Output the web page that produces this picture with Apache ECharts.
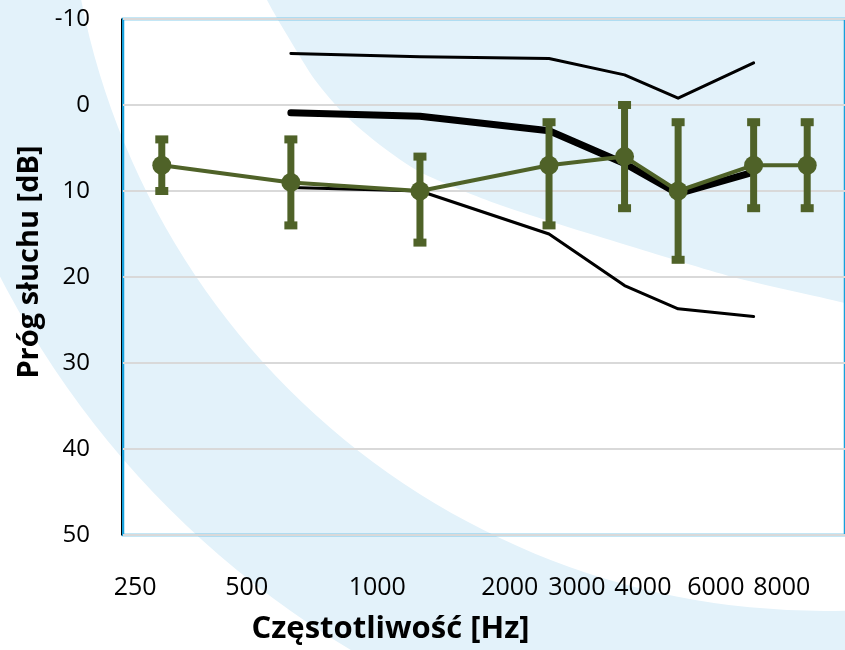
<!DOCTYPE html>
<html>
<head>
<meta charset="utf-8">
<script src="https://cdn.jsdelivr.net/npm/echarts@6/dist/echarts.min.js"></script>
<style>
  html, body { margin: 0; padding: 0; background: #ffffff; }
  #chart { width: 845px; height: 650px; }
</style>
</head>
<body>
<div id="chart"></div>
<script>
// Audiometric frequencies (Hz) and the measured mean hearing threshold (dB HL)
const freqs = [250, 500, 1000, 2000, 3000, 4000, 6000, 8000];
const meanDb = [7, 9, 10, 7, 6, 10, 7, 7];
// error bar ends (dB HL): upper end (smaller value) and lower end
const barTopDb = [4, 4, 6, 2, 0, 2, 2, 2];
const barBottomDb = [10, 14, 16, 14, 12, 18, 12, 12];

// Reference norm curves
const normFreqs = [500, 1000, 2000, 3000, 4000, 6000];
const normUpper = [-6, -5.6, -5.4, -3.5, -0.8, -4.9];
const normMid = [0.9, 1.3, 3, 6.8, 10.3, 7.8];
const normLower = [9.6, 10, 15, 21, 23.7, 24.6];

// Frequency axis text
const xTickLabels = ['250', '500', '1000', '2000', '3000', '4000', '6000', '8000'];
// where each frequency label is centred along the axis (Hz)
const xLabelAnchorsHz = [216.6, 394.5, 795, 1620, 2322, 3310, 4898, 6980];

const FONT = "'Open Sans', 'Noto Sans', sans-serif";
const GREEN = '#4f6228';
const BAND = '#e3f2fa';

const lx = f => Math.log2(f);
const labelAnchors = xLabelAnchorsHz.map(lx);

const chart = echarts.init(document.getElementById('chart'));

function normSeries(values, width) {
  return {
    type: 'line',
    xAxisIndex: 0,
    data: normFreqs.map((f, i) => [lx(f), values[i]]),
    symbol: 'none',
    lineStyle: { color: '#000000', width: width, cap: 'round', join: 'round' },
    silent: true,
    z: 2
  };
}

chart.setOption({
  backgroundColor: '#ffffff',
  animation: false,
  graphic: [
    {
      type: 'ring',
      z: -10,
      silent: true,
      shape: { cx: 824, cy: -146, r: 926, r0: 757 },
      style: { fill: BAND }
    },
    {
      type: 'polygon',
      z: -10,
      silent: true,
      shape: {
        points: [[267, 0], [290, 40], [315, 80], [345, 115], [380, 145], [420, 172],
                 [500, 205], [633, 247], [733, 277], [845, 303], [900, 318],
                 [900, -40], [250, -40]],
        smooth: 0.25
      },
      style: { fill: BAND }
    }
  ],
  grid: {
    left: 123,
    top: 19,
    right: -5,
    bottom: 113,
    show: true,
    backgroundColor: 'transparent',
    borderColor: '#17a0db',
    borderWidth: 2.5
  },
  xAxis: [
    {
      type: 'value',
      min: Math.log2(203),
      max: Math.log2(9800),
      axisLine: { show: false },
      axisTick: { show: false },
      axisLabel: { show: false },
      splitLine: { show: false }
    },
    {
      type: 'value',
      position: 'bottom',
      min: Math.log2(203),
      max: Math.log2(9800),
      axisLine: { show: false },
      axisTick: { show: false },
      splitLine: { show: false },
      axisLabel: {
        customValues: labelAnchors,
        formatter: v => {
          const i = labelAnchors.findIndex(a => Math.abs(a - v) < 1e-6);
          return i >= 0 ? xTickLabels[i] : '';
        },
        fontFamily: FONT,
        fontSize: 25,
        color: '#000000',
        margin: 40
      },
      name: 'Częstotliwość [Hz]',
      nameLocation: 'middle',
      nameGap: 79,
      nameTextStyle: {
        fontFamily: FONT,
        fontWeight: 'bold',
        fontSize: 31,
        color: '#000000',
        padding: [0, 187, 0, 0]
      }
    }
  ],
  yAxis: {
    type: 'value',
    inverse: true,
    min: -10,
    max: 50,
    interval: 10,
    offset: 2,
    axisLine: { show: true, lineStyle: { color: '#000000', width: 1 } },
    axisTick: { show: false },
    axisLabel: {
      fontFamily: FONT,
      fontSize: 24,
      color: '#000000',
      margin: 31
    },
    splitLine: { show: true, lineStyle: { color: '#d9d9d9', width: 2 } },
    name: 'Próg słuchu [dB]',
    nameLocation: 'middle',
    nameGap: 73,
    nameTextStyle: {
      fontFamily: FONT,
      fontWeight: 'bold',
      fontSize: 29,
      color: '#000000',
      padding: [0, 0, 0, 30]
    }
  },
  series: [
    normSeries(normUpper, 3),
    normSeries(normMid, 7),
    normSeries(normLower, 3),
    {
      type: 'custom',
      xAxisIndex: 0,
      silent: true,
      z: 3,
      data: freqs.map((f, i) => [lx(f), barTopDb[i], barBottomDb[i]]),
      renderItem: function (params, api) {
        const top = api.coord([api.value(0), api.value(1)]);
        const bot = api.coord([api.value(0), api.value(2)]);
        const capW = 13, capH = 8, stem = 7;
        return {
          type: 'group',
          children: [
            {
              type: 'rect',
              shape: { x: top[0] - stem / 2, y: top[1], width: stem, height: bot[1] - top[1] },
              style: { fill: GREEN }
            },
            {
              type: 'rect',
              shape: { x: top[0] - capW / 2, y: top[1] - capH / 2, width: capW, height: capH },
              style: { fill: GREEN }
            },
            {
              type: 'rect',
              shape: { x: bot[0] - capW / 2, y: bot[1] - capH / 2, width: capW, height: capH },
              style: { fill: GREEN }
            }
          ]
        };
      }
    },
    {
      type: 'line',
      xAxisIndex: 0,
      data: freqs.map((f, i) => [lx(f), meanDb[i]]),
      symbol: 'circle',
      symbolSize: 19,
      itemStyle: { color: GREEN },
      lineStyle: { color: GREEN, width: 4 },
      silent: true,
      z: 4
    }
  ]
});
</script>
</body>
</html>
